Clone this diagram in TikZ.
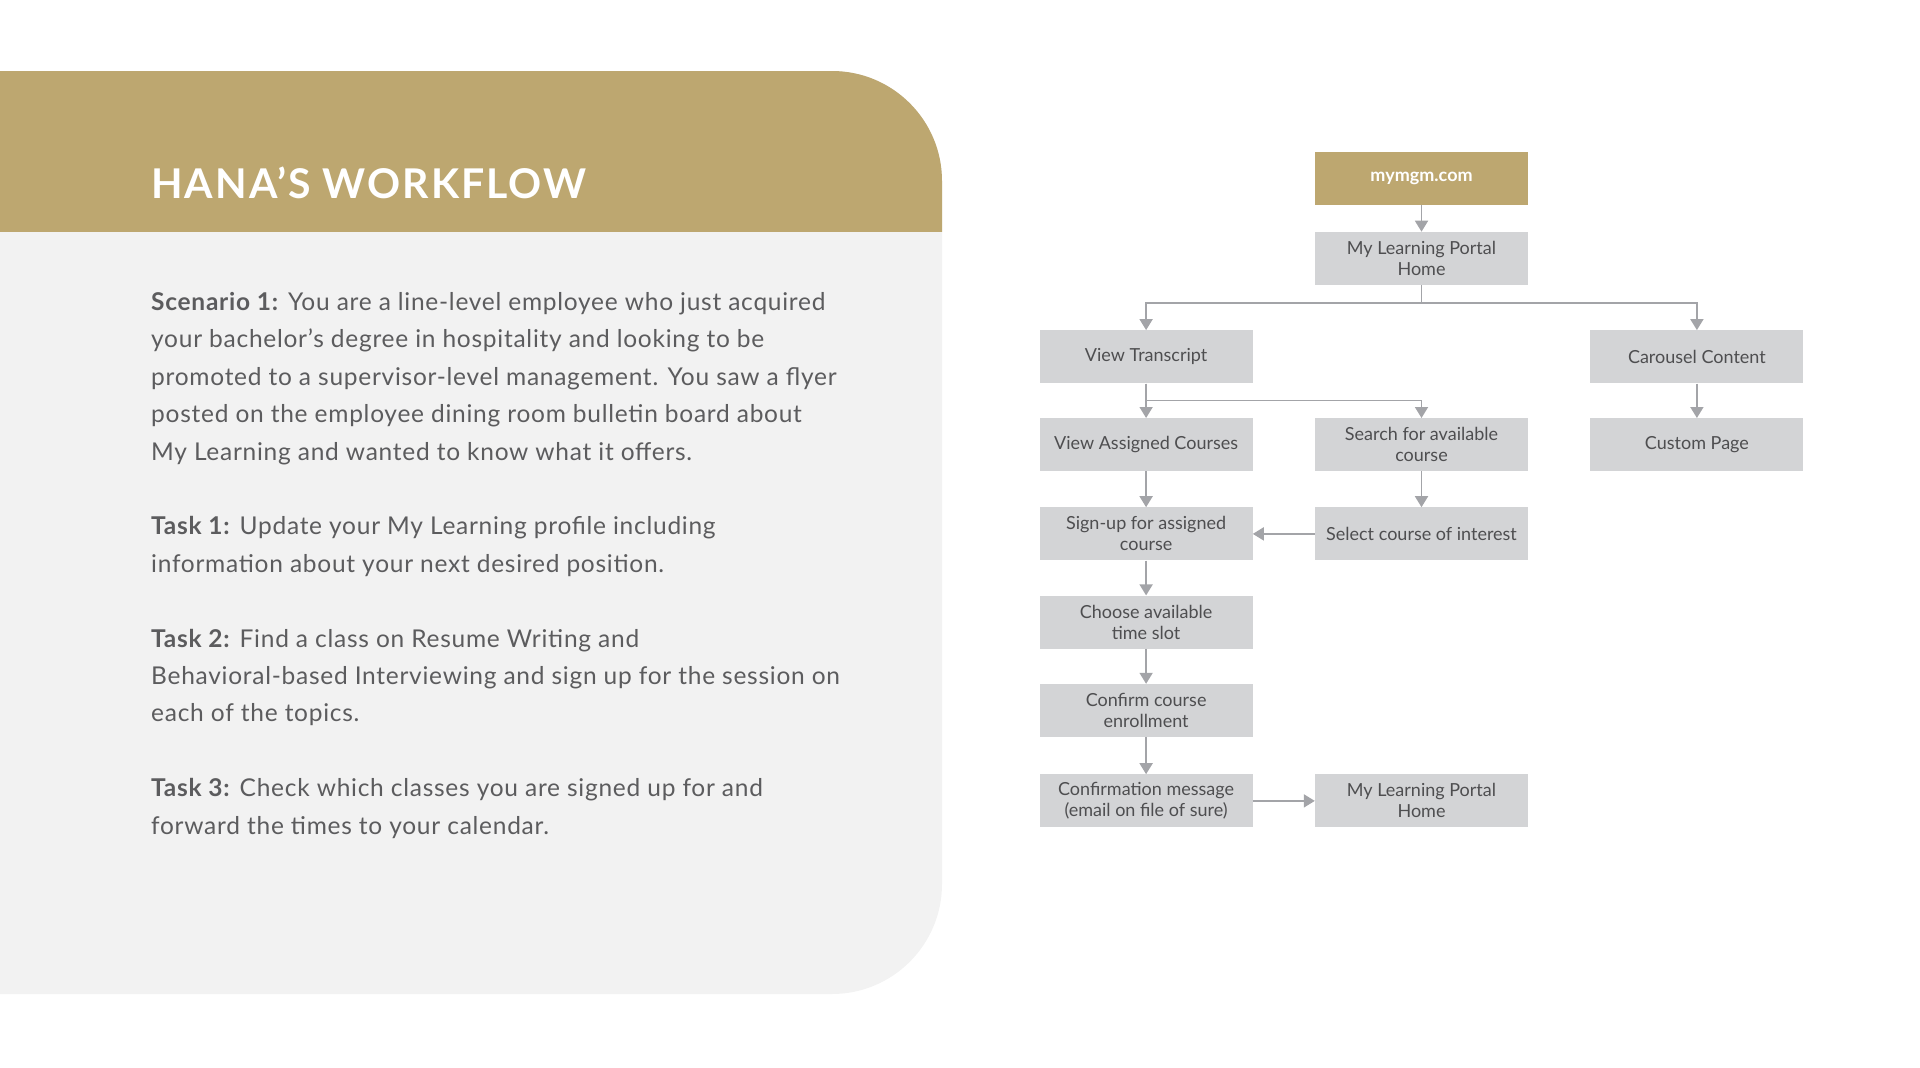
\documentclass[tikz,border=0pt]{standalone}
\usepackage{fontspec}
\setmainfont{Lato}
\usetikzlibrary{arrows.meta,positioning}
\definecolor{mgmgold}{RGB}{189,167,112}
\definecolor{panelgray}{RGB}{242,242,242}
\definecolor{boxgray}{RGB}{211,212,214}
\definecolor{boxtext}{RGB}{78,78,80}
\definecolor{bodytext}{RGB}{92,92,94}
\definecolor{linkgray}{RGB}{163,164,168}
\newcommand{\lead}[1]{\textbf{#1}}

\begin{document}
\begin{tikzpicture}[
    x=1pt,y=-1pt,
    node distance=36pt and 62pt,
    stepbox/.style={rectangle,fill=boxgray,text=boxtext,minimum width=213pt,
      minimum height=53pt,inner sep=0pt,align=center,font=\fontsize{18}{21}\selectfont},
    sitebox/.style={stepbox,fill=mgmgold,text=white,font=\fontsize{18}{21}\selectfont\bfseries},
    arrow/.style={-{Triangle[length=11pt,width=13pt]},line width=1.8pt,draw=linkgray}
  ]
  \useasboundingbox (0,0) rectangle (1920,1068);
  % left panel
  \begin{scope}
    \clip (0,0) rectangle (1920,1068);
    \fill[panelgray,rounded corners=110pt] (-200,71) rectangle (942,994);
  \end{scope}
  \begin{scope}
    \clip (0,0) rectangle (1920,231);
    \fill[mgmgold,rounded corners=110pt] (-200,71) rectangle (942,994);
  \end{scope}
  \node[anchor=base west,inner sep=0pt,text=white,
    font=\fontsize{41}{41}\selectfont\bfseries\addfontfeatures{LetterSpace=5}] (title) at (151,198) {HANA’S WORKFLOW};
  \node[anchor=base west,inner sep=0pt,align=left,text=bodytext,
    font=\fontsize{24.5}{37.4}\selectfont\addfontfeatures{LetterSpace=3}] (brief) at (151,834) {%
    \lead{Scenario 1:} You are a line-level employee who just acquired\\
    your bachelor’s degree in hospitality and looking to be\\
    promoted to a supervisor-level management. You saw a flyer\\
    posted on the employee dining room bulletin board about\\
    My Learning and wanted to know what it offers.\\[37.4pt]
    \lead{Task 1:} Update your My Learning profile including\\
    information about your next desired position.\\[37.4pt]
    \lead{Task 2:} Find a class on Resume Writing and\\
    Behavioral-based Interviewing and sign up for the session on\\
    each of the topics.\\[37.4pt]
    \lead{Task 3:} Check which classes you are signed up for and\\
    forward the times to your calendar.};

  % workflow
  \node[sitebox] (mgm) at (1421.5,178) {mymgm.com};
  \node[stepbox,below=27pt of mgm] (home) {My Learning Portal\\Home};
  \node[stepbox,below left=45pt and 62pt of home] (transcript) {View Transcript};
  \node[stepbox,below right=45pt and 62pt of home] (carousel) {Carousel Content};
  \node[stepbox,below=34.5pt of transcript] (assigned) {View Assigned Courses};
  \node[stepbox,right=of assigned] (search) {Search for available\\course};
  \node[stepbox,below=34.5pt of carousel] (custom) {Custom Page};
  \node[stepbox,below=35.8pt of assigned] (signup) {Sign-up for assigned\\course};
  \node[stepbox,right=of signup] (select) {Select course of interest};
  \node[stepbox,below=34.8pt of signup] (slot) {Choose available\\time slot};
  \node[stepbox,below=35pt of slot] (confirm) {Confirm course\\enrollment};
  \node[stepbox,below=37pt of confirm] (message) {Confirmation message\\(email on file of sure)};
  \node[stepbox,right=of message] (homeagain) {My Learning Portal\\Home};

  \draw[arrow] (mgm) -- (home);
  \draw[arrow] (home.south) -- ++(0,18) -| (transcript.north);
  \draw[arrow] (home.south) -- ++(0,18) -| (carousel.north);
  \draw[arrow] (transcript) -- (assigned);
  \draw[arrow] (transcript.south) -- ++(0,17) -| (search.north);
  \draw[arrow] (carousel) -- (custom);
  \draw[arrow] (assigned) -- (signup);
  \draw[arrow] (search) -- (select);
  \draw[arrow] (select) -- (signup);
  \draw[arrow] (signup) -- (slot);
  \draw[arrow] (slot) -- (confirm);
  \draw[arrow] (confirm) -- (message);
  \draw[arrow] (message) -- (homeagain);
\end{tikzpicture}
\end{document}
